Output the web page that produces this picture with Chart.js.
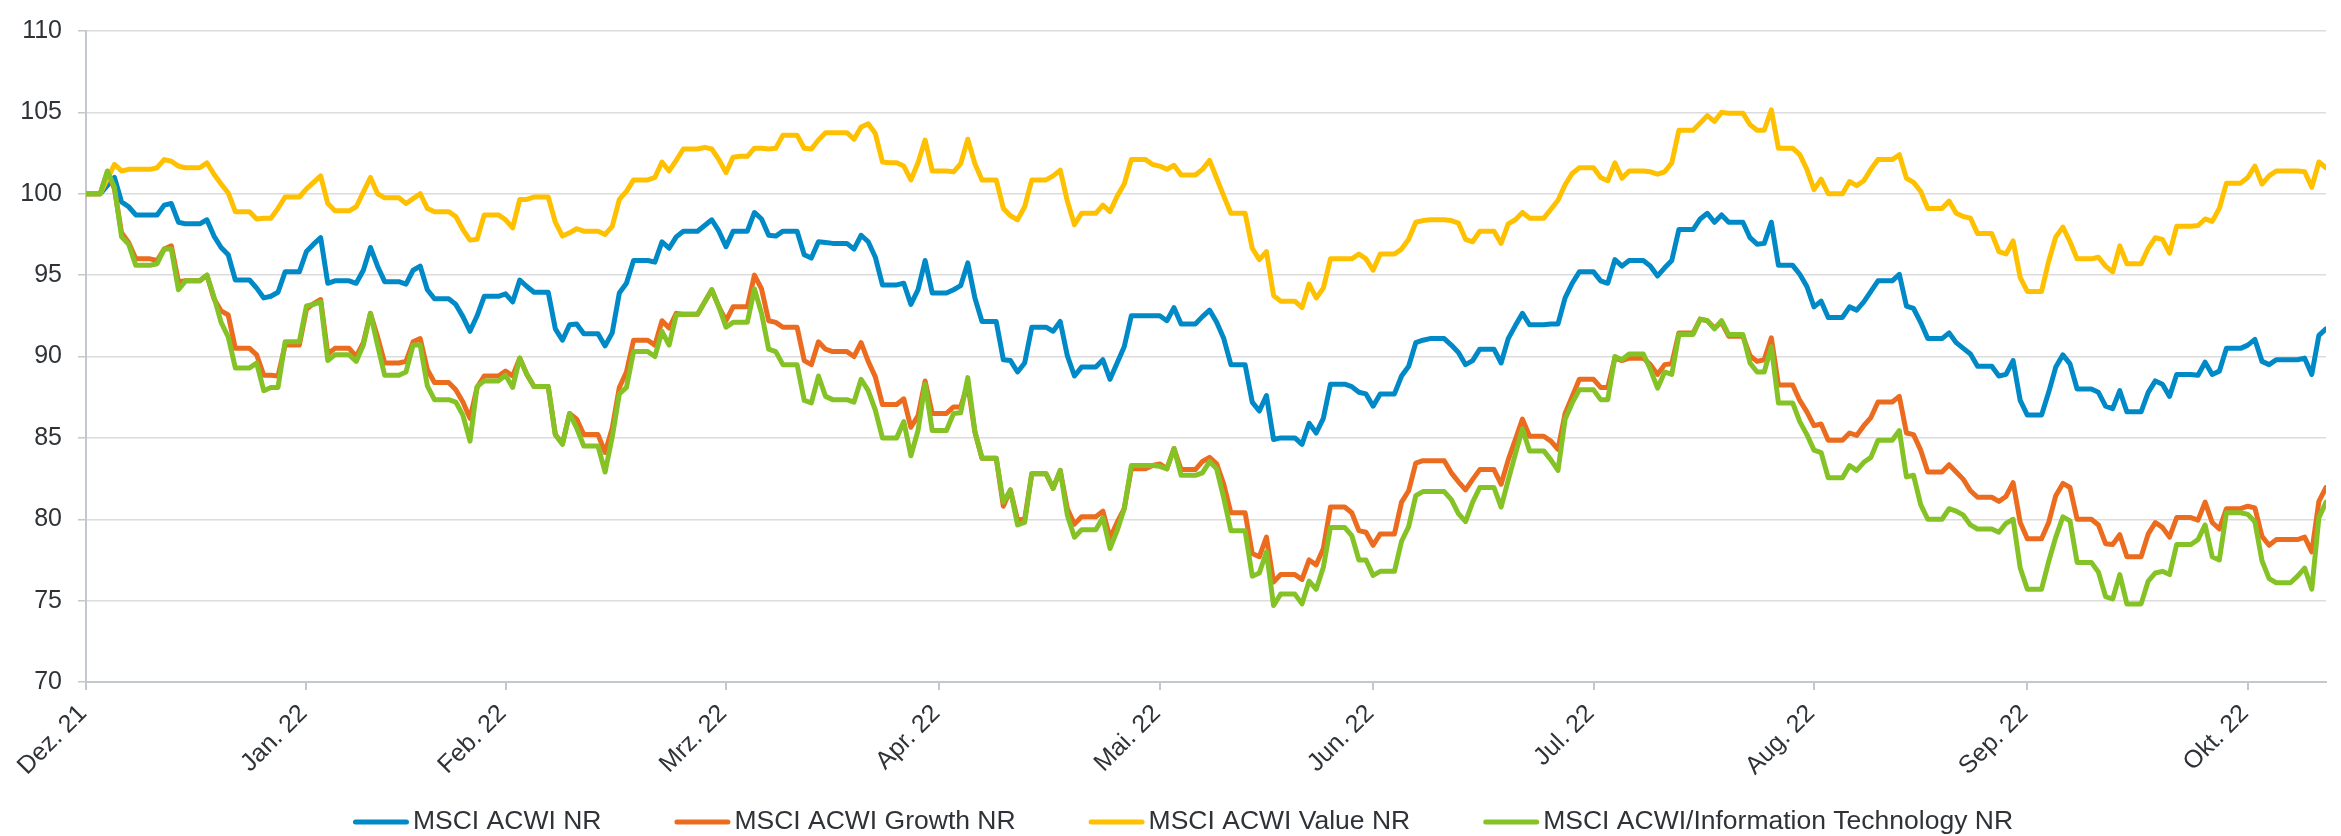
<!DOCTYPE html>
<html>
<head>
<meta charset="utf-8">
<script src="https://cdn.jsdelivr.net/npm/chart.js@4.4.1/dist/chart.umd.min.js"></script>
<style>
  html, body { margin: 0; padding: 0; background: #ffffff; }
  #wrap { width: 2341px; height: 836px; }
</style>
</head>
<body>
<div id="wrap"><canvas id="c" width="2341" height="836"></canvas></div>
<script>
// Series names (legend order)
const seriesNames = ['MSCI ACWI NR', 'MSCI ACWI Growth NR', 'MSCI ACWI Value NR', 'MSCI ACWI/Information Technology NR'];

// Month-end tick positions (days since 31.12.2021) and their labels
const tickDays = [0, 31, 59, 90, 120, 151, 181, 212, 243, 273, 304];
const tickLabels = ['Dez. 21', 'Jan. 22', 'Feb. 22', 'Mrz. 22', 'Apr. 22', 'Mai. 22', 'Jun. 22', 'Jul. 22', 'Aug. 22', 'Sep. 22', 'Okt. 22'];

// Daily values from 31.12.2021 (Fri) to 11.11.2022 (Fri); one row per week (Fri..Thu)
const acwi = [
  100,100,100,100.5,101.0,99.5,99.2,
  98.7,98.7,98.7,98.7,99.3,99.4,98.25,
  98.15,98.15,98.15,98.4,97.4,96.7,96.25,
  94.7,94.7,94.7,94.2,93.6,93.7,93.95,
  95.2,95.2,95.2,96.45,96.9,97.3,94.5,
  94.65,94.65,94.65,94.5,95.3,96.7,95.55,
  94.6,94.6,94.6,94.45,95.3,95.55,94.1,
  93.55,93.55,93.55,93.2,92.45,91.55,92.5,
  93.7,93.7,93.7,93.85,93.35,94.7,94.3,
  93.95,93.95,93.95,91.7,91.0,91.95,92.0,
  91.4,91.4,91.4,90.65,91.45,93.9,94.5,
  95.9,95.9,95.9,95.8,97.05,96.65,97.35,
  97.7,97.7,97.7,98.05,98.4,97.7,96.75,
  97.7,97.7,97.7,98.85,98.45,97.45,97.4,
  97.7,97.7,97.7,96.25,96.05,97.05,97.0,
  96.95,96.95,96.95,96.6,97.45,97.05,96.1,
  94.4,94.4,94.4,94.5,93.2,94.1,95.9,
  93.9,93.9,93.9,94.1,94.35,95.75,93.6,
  92.15,92.15,92.15,89.8,89.75,89.05,89.6,
  91.8,91.8,91.8,91.55,92.15,90.05,88.8,
  89.35,89.35,89.35,89.8,88.6,89.6,90.6,
  92.5,92.5,92.5,92.5,92.5,92.2,93.0,
  92.0,92.0,92.0,92.45,92.85,92.1,91.1,
  89.5,89.5,89.5,87.2,86.65,87.6,84.9,
  85.0,85.0,85.0,84.6,85.9,85.3,86.2,
  88.3,88.3,88.3,88.15,87.8,87.7,86.95,
  87.7,87.7,87.7,88.8,89.4,90.85,91.0,
  91.1,91.1,91.1,90.7,90.25,89.5,89.75,
  90.45,90.45,90.45,89.6,91.1,91.9,92.65,
  91.95,91.95,91.95,92.0,92.0,93.6,94.5,
  95.2,95.2,95.2,94.65,94.5,95.95,95.55,
  95.9,95.9,95.9,95.55,94.95,95.45,95.9,
  97.8,97.8,97.8,98.45,98.8,98.25,98.7,
  98.25,98.25,98.25,97.3,96.9,96.95,98.25,
  95.6,95.6,95.6,95.05,94.3,93.05,93.4,
  92.4,92.4,92.4,93.05,92.85,93.35,94.0,
  94.65,94.65,94.65,95.05,93.1,92.95,92.1,
  91.1,91.1,91.1,91.45,90.85,90.5,90.15,
  89.4,89.4,89.4,88.8,88.9,89.75,87.3,
  86.4,86.4,86.4,87.8,89.35,90.1,89.55,
  88.0,88.0,88.0,87.8,86.95,86.8,87.9,
  86.6,86.6,86.6,87.8,88.5,88.3,87.55,
  88.9,88.9,88.9,88.85,89.65,88.9,89.1,
  90.5,90.5,90.5,90.7,91.05,89.7,89.5,
  89.8,89.8,89.8,89.8,89.9,88.9,91.3,
  91.7
];

const growth = [
  100,100,100,101.3,100.3,97.6,97.0,
  96.0,96.0,96.0,95.9,96.6,96.8,94.6,
  94.65,94.65,94.65,95.0,93.55,92.8,92.55,
  90.5,90.5,90.5,90.1,88.85,88.85,88.8,
  90.7,90.7,90.7,92.9,93.25,93.5,90.15,
  90.5,90.5,90.5,90.0,90.85,92.65,91.2,
  89.6,89.6,89.6,89.7,90.9,91.1,89.2,
  88.4,88.4,88.4,87.95,87.2,86.2,88.1,
  88.8,88.8,88.8,89.1,88.8,89.9,88.9,
  88.15,88.15,88.15,85.2,84.65,86.5,86.15,
  85.2,85.2,85.2,84.1,85.6,88.1,89.05,
  91.0,91.0,91.0,90.7,92.2,91.75,92.65,
  92.6,92.6,92.6,93.35,94.1,93.05,92.2,
  93.05,93.05,93.05,95.0,94.15,92.2,92.1,
  91.8,91.8,91.8,89.75,89.5,90.9,90.45,
  90.3,90.3,90.3,90.0,90.85,89.7,88.75,
  87.05,87.05,87.05,87.4,85.65,86.35,88.5,
  86.5,86.5,86.5,86.9,86.9,88.3,85.35,
  83.75,83.75,83.75,80.8,81.8,79.95,80.0,
  82.8,82.8,82.8,81.9,83.0,80.65,79.7,
  80.15,80.15,80.15,80.5,78.85,79.8,80.65,
  83.1,83.1,83.1,83.3,83.4,83.1,84.35,
  83.05,83.05,83.05,83.55,83.8,83.4,82.15,
  80.4,80.4,80.4,77.9,77.7,78.9,76.15,
  76.6,76.6,76.6,76.3,77.5,77.2,78.2,
  80.75,80.75,80.75,80.4,79.3,79.2,78.4,
  79.1,79.1,79.1,81.05,81.75,83.45,83.6,
  83.6,83.6,83.6,82.85,82.3,81.8,82.45,
  83.05,83.05,83.05,82.15,83.65,84.9,86.15,
  85.1,85.1,85.1,84.8,84.3,86.5,87.55,
  88.6,88.6,88.6,88.1,88.1,89.9,89.75,
  89.9,89.9,89.9,89.5,88.9,89.5,89.55,
  91.45,91.45,91.45,92.3,92.2,91.75,92.1,
  91.25,91.25,91.25,90.05,89.7,89.8,91.15,
  88.25,88.25,88.25,87.3,86.6,85.75,85.85,
  84.85,84.85,84.85,85.3,85.15,85.75,86.25,
  87.2,87.2,87.2,87.55,85.3,85.2,84.25,
  82.9,82.9,82.9,83.35,82.9,82.45,81.75,
  81.35,81.35,81.35,81.1,81.4,82.25,79.8,
  78.8,78.8,78.8,79.8,81.45,82.2,81.95,
  80.0,80.0,80.0,79.65,78.5,78.45,79.05,
  77.7,77.7,77.7,79.1,79.8,79.5,78.9,
  80.1,80.1,80.1,79.95,81.05,79.8,79.4,
  80.65,80.65,80.65,80.8,80.7,78.95,78.4,
  78.75,78.75,78.75,78.75,78.9,78.0,81.1,
  81.95
];

const valueIdx = [
  100,100,100,100.9,101.8,101.4,101.5,
  101.5,101.5,101.5,101.6,102.1,102.0,101.7,
  101.6,101.6,101.6,101.9,101.2,100.6,100.05,
  98.9,98.9,98.9,98.45,98.5,98.5,99.1,
  99.8,99.8,99.8,100.3,100.7,101.1,99.4,
  98.95,98.95,98.95,99.2,100.1,101.0,100.0,
  99.75,99.75,99.75,99.4,99.7,100.0,99.1,
  98.9,98.9,98.9,98.6,97.8,97.15,97.2,
  98.7,98.7,98.7,98.4,97.9,99.65,99.65,
  99.8,99.8,99.8,98.25,97.4,97.6,97.85,
  97.7,97.7,97.7,97.5,98.0,99.65,100.15,
  100.85,100.85,100.85,101.0,101.95,101.4,102.05,
  102.75,102.75,102.75,102.85,102.75,102.1,101.3,
  102.25,102.3,102.3,102.8,102.8,102.75,102.8,
  103.6,103.6,103.6,102.8,102.75,103.3,103.75,
  103.75,103.75,103.75,103.35,104.1,104.3,103.7,
  101.95,101.9,101.9,101.7,100.85,101.9,103.3,
  101.4,101.4,101.4,101.35,101.85,103.35,101.85,
  100.85,100.85,100.85,99.1,98.65,98.4,99.2,
  100.85,100.85,100.85,101.1,101.45,99.55,98.1,
  98.8,98.8,98.8,99.3,98.9,99.85,100.6,
  102.1,102.1,102.1,101.8,101.7,101.5,101.75,
  101.15,101.15,101.15,101.5,102.05,100.95,99.85,
  98.8,98.8,98.8,96.65,95.95,96.45,93.75,
  93.4,93.4,93.4,93.0,94.45,93.6,94.2,
  96.0,96.0,96.0,96.0,96.3,96.0,95.3,
  96.3,96.3,96.3,96.6,97.2,98.25,98.35,
  98.4,98.4,98.4,98.35,98.2,97.2,97.05,
  97.7,97.7,97.7,96.95,98.15,98.4,98.85,
  98.5,98.5,98.5,99.05,99.6,100.55,101.25,
  101.6,101.6,101.6,101.0,100.8,101.9,100.95,
  101.4,101.4,101.4,101.35,101.2,101.35,101.9,
  103.9,103.9,103.9,104.35,104.8,104.45,105.0,
  104.95,104.95,104.95,104.25,103.9,103.9,105.15,
  102.8,102.8,102.8,102.4,101.5,100.25,100.9,
  100.0,100.0,100.0,100.75,100.5,100.8,101.5,
  102.1,102.1,102.1,102.4,100.95,100.7,100.15,
  99.1,99.1,99.1,99.55,98.8,98.6,98.5,
  97.55,97.55,97.55,96.45,96.3,97.1,94.85,
  94.0,94.0,94.0,95.85,97.35,97.95,97.05,
  96.0,96.0,96.0,96.1,95.55,95.2,96.8,
  95.7,95.7,95.7,96.65,97.3,97.2,96.35,
  98.0,98.0,98.0,98.05,98.45,98.3,99.1,
  100.65,100.65,100.65,101.0,101.7,100.6,101.1,
  101.4,101.4,101.4,101.4,101.35,100.4,101.95,
  101.6
];

const infoTech = [
  100,100,100,101.4,100.4,97.35,96.9,
  95.6,95.6,95.6,95.7,96.6,96.6,94.1,
  94.65,94.65,94.65,95.0,93.65,92.1,91.2,
  89.3,89.3,89.3,89.6,87.9,88.1,88.1,
  90.9,90.9,90.9,93.1,93.2,93.35,89.75,
  90.1,90.1,90.1,89.7,90.7,92.65,90.7,
  88.85,88.85,88.85,89.05,90.7,90.7,88.2,
  87.35,87.35,87.35,87.2,86.4,84.8,88.15,
  88.5,88.5,88.5,88.85,88.1,89.9,88.9,
  88.15,88.15,88.15,85.2,84.6,86.5,85.6,
  84.5,84.5,84.5,82.9,85.05,87.7,88.1,
  90.3,90.3,90.3,90.0,91.55,90.7,92.55,
  92.6,92.6,92.6,93.35,94.1,93.05,91.8,
  92.1,92.1,92.1,94.15,92.65,90.45,90.3,
  89.5,89.5,89.5,87.3,87.15,88.8,87.55,
  87.35,87.35,87.35,87.2,88.6,87.9,86.7,
  85.0,85.0,85.0,86.0,83.9,85.45,88.3,
  85.45,85.45,85.45,86.5,86.55,88.7,85.4,
  83.75,83.75,83.75,81.05,81.8,79.65,79.8,
  82.8,82.8,82.8,81.9,83.0,80.25,78.9,
  79.35,79.35,79.35,80.1,78.2,79.3,80.65,
  83.3,83.3,83.3,83.3,83.25,83.1,84.35,
  82.7,82.7,82.7,82.85,83.55,83.1,81.3,
  79.3,79.3,79.3,76.5,76.7,78.0,74.7,
  75.4,75.4,75.4,74.8,76.2,75.7,77.05,
  79.5,79.5,79.5,79.0,77.5,77.5,76.55,
  76.8,76.8,76.8,78.65,79.55,81.45,81.7,
  81.7,81.7,81.7,81.2,80.35,79.85,81.05,
  81.95,81.95,81.95,80.75,82.4,84.0,85.55,
  84.2,84.2,84.2,83.65,83.0,86.15,87.15,
  87.95,87.95,87.95,87.35,87.35,90.0,89.8,
  90.15,90.15,90.15,89.2,88.05,89.05,88.9,
  91.35,91.35,91.35,92.3,92.2,91.7,92.2,
  91.35,91.35,91.35,89.6,89.05,89.05,90.6,
  87.15,87.15,87.15,86.0,85.2,84.25,84.1,
  82.55,82.55,82.55,83.3,83.0,83.5,83.8,
  84.85,84.85,84.85,85.45,82.6,82.7,80.9,
  80.0,80.0,80.0,80.65,80.5,80.25,79.65,
  79.4,79.4,79.4,79.2,79.75,80.0,77.0,
  75.7,75.7,75.7,77.4,78.9,80.15,79.9,
  77.35,77.35,77.35,76.75,75.25,75.1,76.6,
  74.8,74.8,74.8,76.2,76.7,76.8,76.6,
  78.45,78.45,78.45,78.75,79.65,77.7,77.5,
  80.4,80.4,80.4,80.3,79.85,77.45,76.35,
  76.1,76.1,76.1,76.5,77.0,75.7,80.1,
  81.05
];

// Day index (days since 31.12.2021) for each daily observation
const days = acwi.map((_, i) => i);

const seriesColors = ['#0089c7', '#ec6c1f', '#ffc000', '#84c226'];
const axisColor = '#c3c7ce';
const gridColor = '#dcdcdc';
const textColor = '#2f3338';
const fontFamily = '"Liberation Sans", Arial, Helvetica, sans-serif';

// Legend drawn as line samples (Excel style)
const lineLegend = {
  id: 'lineLegend',
  afterDraw(chart, args, opts) {
    const ctx = chart.ctx;
    ctx.save();
    ctx.font = opts.fontSize + 'px ' + fontFamily;
    ctx.textBaseline = 'middle';
    ctx.textAlign = 'left';
    const items = chart.data.datasets.map(ds => ({
      text: ds.label, color: ds.borderColor, w: ctx.measureText(ds.label).width
    }));
    const total = items.reduce((s, it) => s + opts.sample + opts.textGap + it.w, 0) + opts.itemGap * (items.length - 1);
    let x = opts.centerX - total / 2;
    const y = opts.y;
    items.forEach(it => {
      ctx.strokeStyle = it.color;
      ctx.lineWidth = opts.lineWidth;
      ctx.lineCap = 'round';
      ctx.beginPath();
      ctx.moveTo(x + opts.lineWidth / 2, y);
      ctx.lineTo(x + opts.sample - opts.lineWidth / 2, y);
      ctx.stroke();
      ctx.fillStyle = textColor;
      ctx.fillText(it.text, x + opts.sample + opts.textGap, y);
      x += opts.sample + opts.textGap + it.w + opts.itemGap;
    });
    ctx.restore();
  }
};

const seriesData = [acwi, growth, valueIdx, infoTech];
const drawOrder = [4, 3, 2, 1];

new Chart(document.getElementById('c'), {
  type: 'line',
  data: {
    labels: days,
    datasets: seriesNames.map((name, i) => ({
      label: name,
      data: seriesData[i],
      borderColor: seriesColors[i],
      backgroundColor: seriesColors[i],
      borderWidth: 5,
      borderJoinStyle: 'round',
      borderCapStyle: 'round',
      pointRadius: 0,
      pointHoverRadius: 0,
      tension: 0,
      fill: false,
      order: drawOrder[i]
    }))
  },
  options: {
    responsive: false,
    devicePixelRatio: 1,
    animation: false,
    layout: { padding: { top: 17, right: 15, bottom: 0, left: 0 } },
    plugins: {
      legend: { display: false },
      tooltip: { enabled: false },
      lineLegend: { fontSize: 26.5, sample: 56, textGap: 4, itemGap: 73, lineWidth: 5, centerX: 1183, y: 822 }
    },
    scales: {
      x: {
        type: 'linear',
        min: 0,
        max: 315,
        afterBuildTicks: (scale) => { scale.ticks = tickDays.map(v => ({ value: v })); },
        afterFit: (scale) => { scale.height = 154; },
        ticks: {
          autoSkip: false,
          minRotation: 45,
          maxRotation: 45,
          padding: 9,
          labelOffset: -3,
          color: textColor,
          font: { family: fontFamily, size: 25 },
          callback: (v, i) => tickLabels[i]
        },
        grid: { drawOnChartArea: false, drawTicks: true, tickLength: 8, color: axisColor, lineWidth: 2 },
        border: { display: true, color: axisColor, width: 2 }
      },
      y: {
        min: 70,
        max: 110,
        afterFit: (scale) => { scale.width = 86; },
        ticks: {
          stepSize: 5,
          padding: 16,
          color: textColor,
          font: { family: fontFamily, size: 25 }
        },
        grid: { color: gridColor, lineWidth: 1.5, tickLength: 8, tickColor: axisColor, drawTicks: true },
        border: { display: true, color: axisColor, width: 2 }
      }
    }
  },
  plugins: [lineLegend]
});
</script>
</body>
</html>
